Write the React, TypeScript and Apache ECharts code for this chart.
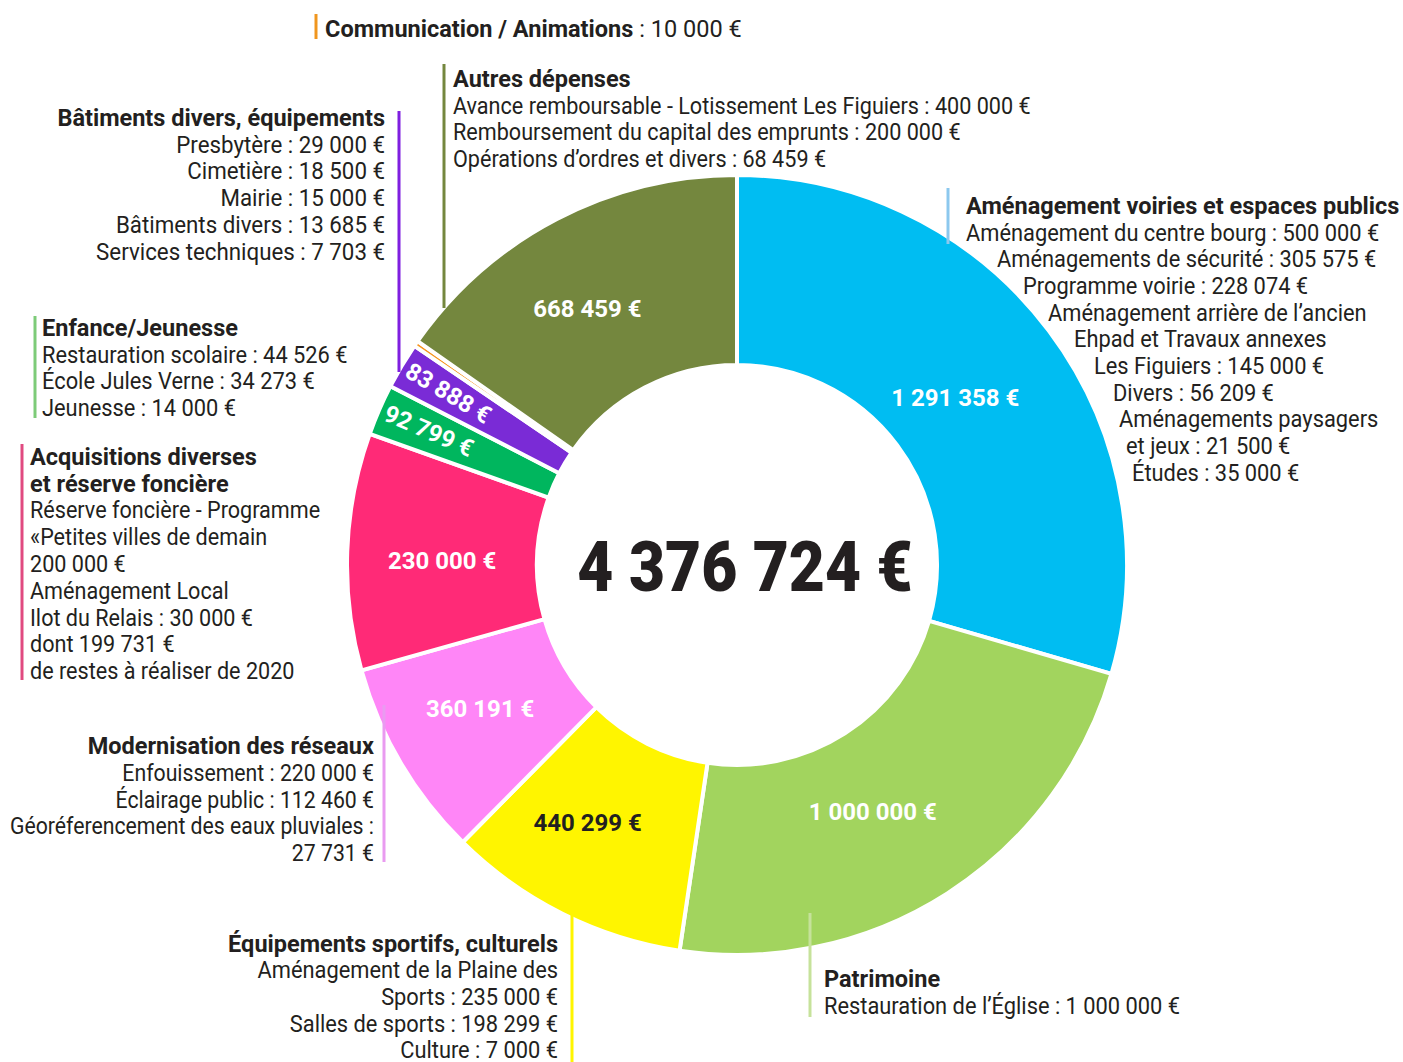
import React, { useEffect, useRef } from 'react';
import * as echarts from 'echarts';

// ---------- data ----------
const categories = [
  'Aménagement voiries et espaces publics',
  'Patrimoine',
  'Équipements sportifs, culturels',
  'Modernisation des réseaux',
  'Acquisitions diverses et réserve foncière',
  'Enfance/Jeunesse',
  'Bâtiments divers, équipements',
  'Communication / Animations',
  'Autres dépenses',
];
// amounts shown in the slices
const amounts = [1291358, 1000000, 440299, 360191, 230000, 92799, 83888, 10000, 668459];
// restes à réaliser de 2020 (included in the slice size)
const carryOver = [0, 0, 0, 0, 199731, 0, 0, 0, 0];
const sliceColors = ['#00BDF2', '#A2D45E', '#FFF500', '#FF86F7', '#FF2A77', '#00B65E', '#7A2BD6', '#F7941D', '#74873E'];
const labelColors = ['#FFFFFF', '#FFFFFF', '#231F20', '#FFFFFF', '#FFFFFF', '#FFFFFF', '#FFFFFF', '#FFFFFF', '#FFFFFF'];
const totalLabel = '4 376 724 €';

const voiriesLines = [
  'Aménagement du centre bourg : 500 000 €',
  'Aménagements de sécurité : 305 575 €',
  'Programme voirie : 228 074 €',
  'Aménagement arrière de l’ancien',
  'Ehpad et Travaux annexes',
  'Les Figuiers : 145 000 €',
  'Divers : 56 209 €',
  'Aménagements paysagers',
  'et jeux : 21 500 €',
  'Études : 35 000 €',
];
const autresLines = [
  'Avance remboursable - Lotissement Les Figuiers : 400 000 €',
  'Remboursement du capital des emprunts : 200 000 €',
  'Opérations d’ordres et divers : 68 459 €',
];
const batimentsLines = [
  'Presbytère : 29 000 €',
  'Cimetière : 18 500 €',
  'Mairie : 15 000 €',
  'Bâtiments divers : 13 685 €',
  'Services techniques : 7 703 €',
];
const enfanceLines = [
  'Restauration scolaire : 44 526 €',
  'École Jules Verne : 34 273 €',
  'Jeunesse : 14 000 €',
];
const acquisitionsHead = ['Acquisitions diverses', 'et réserve foncière'];
const acquisitionsLines = [
  'Réserve foncière - Programme',
  '«Petites villes de demain',
  '200 000 €',
  'Aménagement Local',
  'Ilot du Relais : 30 000 €',
  'dont 199 731 €',
  'de restes à réaliser de 2020',
];
const reseauxLines = [
  'Enfouissement : 220 000 €',
  'Éclairage public : 112 460 €',
  'Géoréferencement des eaux pluviales :',
  '27 731 €',
];
const sportsLines = [
  'Aménagement de la Plaine des',
  'Sports : 235 000 €',
  'Salles de sports : 198 299 €',
  'Culture : 7 000 €',
];
const patrimoineLines = ['Restauration de l’Église : 1 000 000 €'];
const communicationAmount = ' : 10 000 €';

// ---------- helpers ----------
const fmt = (n: number) => String(n).replace(/\B(?=(\d{3})+(?!\d))/g, ' ') + ' €';
const FONT = 'Roboto';
const FS = 24;
const SX = 0.91;
const SXB = 0.98;
const INK = '#231F20';

function txt(x: number, y: number, text: string, align: string, bold = false, sx?: number): any {
  return {
    type: 'text',
    x,
    y: y + 1,
    scaleX: sx || (bold ? SXB : SX),
    silent: true,
    style: {
      text,
      fill: INK,
      fontFamily: FONT,
      fontSize: FS,
      fontWeight: bold ? 'bold' : 'normal',
      align,
      textAlign: align,
      verticalAlign: 'middle',
      textVerticalAlign: 'middle',
    },
  };
}
function bar(x: number, y1: number, y2: number, color: string, w = 3): any {
  return {
    type: 'line',
    silent: true,
    z: 10,
    shape: { x1: x, y1, x2: x, y2 },
    style: { stroke: color, lineWidth: w },
  };
}
function block(x: number, y0: number, head: string[], lines: string[], align: string, step = 26.8, sx?: number): any[] {
  const out: any[] = [];
  let y = y0;
  head.forEach((h) => {
    out.push(txt(x, y, h, align, true));
    y += step;
  });
  lines.forEach((l) => {
    out.push(txt(x, y, l, align, false, sx));
    y += step;
  });
  return out;
}
function boldWidth(text: string): number {
  try {
    const t = new (echarts.graphic as any).Text({
      style: { text, fontFamily: FONT, fontSize: FS, fontWeight: 'bold' },
    });
    return t.getBoundingRect().width * SXB;
  } catch (e) {
    return 307;
  }
}

export default function App() {
  const ref = useRef<HTMLDivElement>(null);
  useEffect(() => {
    document.body.style.margin = '0';
    if (!ref.current) return;
    const chart = echarts.init(ref.current, undefined, { renderer: 'svg' });
    const sizes = amounts.map((a, i) => a + carryOver[i]);
    const smallIdx = [5, 6];
    const hiddenIdx = [5, 6, 7];
    const labelShift: number[][] = [[-20, 12], [-25, -4], [-16, -9], [0, -7], [3, 6], [0, 0], [0, 0], [0, 0], [-12, 8]];

    const mainData = sizes.map((v, i) => ({
      value: v,
      name: categories[i],
      itemStyle: { color: sliceColors[i] },
      label: { show: hiddenIdx.indexOf(i) < 0, color: labelColors[i], offset: labelShift[i] },
    }));
    const overlayData = sizes.map((v, i) => ({
      value: v,
      name: categories[i],
      label: { show: smallIdx.indexOf(i) >= 0 },
    }));

    const voiriesX = [966, 997, 1023, 1048, 1074, 1094, 1113, 1119, 1126, 1132];
    const voiriesY0 = 205;
    const commX = 325;
    const commBoldW = boldWidth(categories[7]);

    const graphics: any[] = [
      // Communication / Animations
      bar(316, 14, 39, '#F0961E'),
      txt(commX, 28, categories[7], 'left', true),
      txt(commX + commBoldW, 28, communicationAmount, 'left', false, 0.98),
      // Autres dépenses
      bar(444, 64, 308, '#74873E'),
      ...block(453, 78, [categories[8]], autresLines, 'left', 26.8, 0.9),
      // Bâtiments
      bar(399, 111, 372, '#7F1FE0'),
      ...block(385, 117, [categories[6]], batimentsLines, 'right', 26.8, 0.93),
      // Enfance
      bar(35, 316, 418, '#7DCB78'),
      ...block(42, 327, [categories[5]], enfanceLines, 'left'),
      // Acquisitions
      bar(22, 444, 680, '#E04A80'),
      ...block(30, 456, acquisitionsHead, acquisitionsLines, 'left', 26.8, 0.9),
      // Modernisation
      bar(384, 705, 862, '#E99BF0'),
      ...block(374, 745, [categories[3]], reseauxLines, 'right', 26.8, 0.885),
      // Sports
      bar(572, 905, 1062, '#FFF500'),
      ...block(558, 943, [categories[2]], sportsLines, 'right', 26.6),
      // Patrimoine
      bar(810, 913, 1017, '#C6E29B'),
      ...block(824, 978, [categories[1]], patrimoineLines, 'left'),
      // Voiries
      bar(948, 188, 244, '#8CC8EE'),
      txt(966, voiriesY0, categories[0], 'left', true),
      ...voiriesLines.map((l, i) => txt(voiriesX[i], voiriesY0 + 26.7 * (i + 1), l, 'left', false)),
      // Total
      {
        type: 'text',
        x: 745,
        y: 567,
        scaleX: 0.89,
        silent: true,
        style: {
          text: totalLabel,
          fill: INK,
          fontFamily: FONT,
          fontSize: 70,
          fontWeight: 900,
          align: 'center',
          textAlign: 'center',
          verticalAlign: 'middle',
          textVerticalAlign: 'middle',
        },
      },
    ];

    chart.setOption({
      animation: false,
      backgroundColor: '#FFFFFF',
      series: [
        {
          type: 'pie',
          center: [737, 565],
          radius: [200, 390],
          startAngle: 90,
          clockwise: true,
          avoidLabelOverlap: false,
          silent: true,
          itemStyle: { borderColor: '#FFFFFF', borderWidth: 4 },
          label: {
            show: true,
            position: 'inside',
            formatter: (p: any) => fmt(amounts[p.dataIndex]),
            fontFamily: FONT,
            fontWeight: 'bold',
            fontSize: 24,
            color: '#FFFFFF',
          },
          labelLine: { show: false },
          emphasis: { disabled: true },
          data: mainData,
        },
        {
          type: 'pie',
          center: [737, 565],
          radius: [276, 390],
          startAngle: 90,
          clockwise: true,
          avoidLabelOverlap: false,
          silent: true,
          itemStyle: { color: 'rgba(0,0,0,0)', borderWidth: 0 },
          label: {
            show: false,
            position: 'inside',
            rotate: 'radial',
            formatter: (p: any) => fmt(amounts[p.dataIndex]),
            fontFamily: FONT,
            fontWeight: 'bold',
            fontSize: 24,
            color: '#FFFFFF',
          },
          labelLine: { show: false },
          emphasis: { disabled: true },
          data: overlayData,
        },
      ],
      graphic: graphics,
    });
    return () => chart.dispose();
  }, []);
  return <div ref={ref} style={{ width: 1403, height: 1062 }} />;
}
